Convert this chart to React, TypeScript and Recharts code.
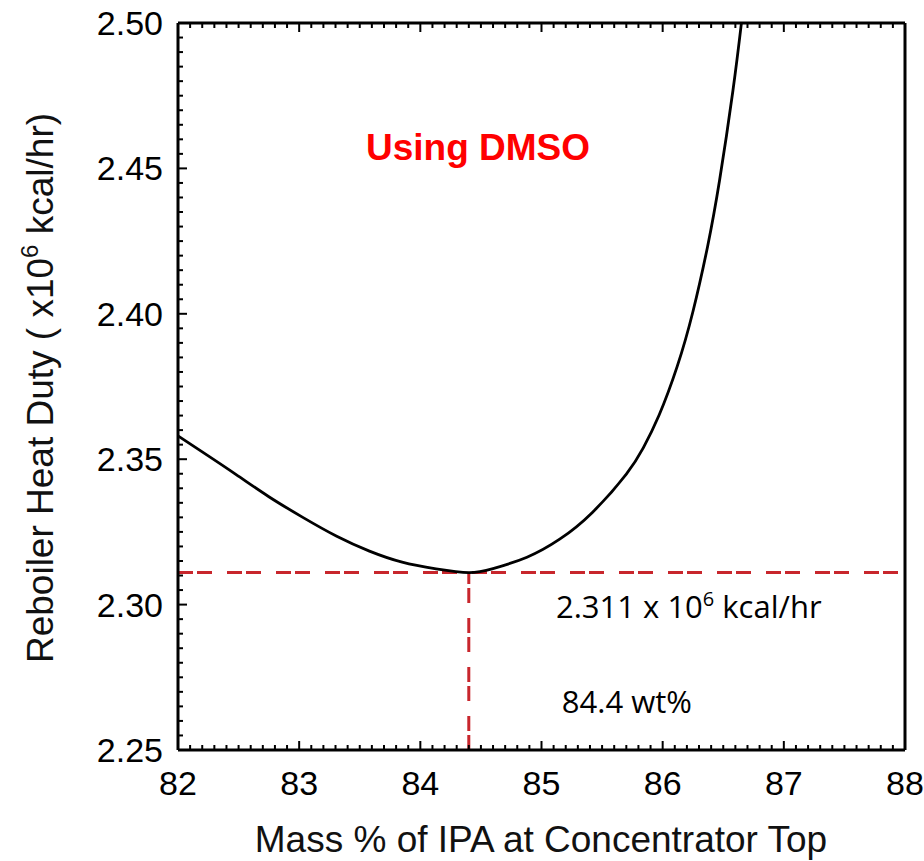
import { Line, LineChart, ReferenceLine, XAxis, YAxis } from "recharts";

// reboiler heat duty (x10^6 kcal/hr) vs IPA mass % at the concentrator top
const massPct = [
  82.0, 82.2, 82.48, 82.75, 83.03, 83.31, 83.58, 83.85, 84.13, 84.4, 84.6, 84.88,
  85.15, 85.42, 85.7, 85.84, 85.97, 86.12, 86.25, 86.37, 86.47, 86.58, 86.65,
];
const heatDuty = [
  2.358, 2.3525, 2.3447, 2.3371, 2.33, 2.3235, 2.3184, 2.3146, 2.3123, 2.311, 2.3124,
  2.3163, 2.3225, 2.3317, 2.3449, 2.3539, 2.3651, 2.3819, 2.4008, 2.423, 2.446, 2.4768, 2.5,
];

const xMajorTicks = [82, 83, 84, 85, 86, 87, 88];
const yMajorTicks = [2.25, 2.3, 2.35, 2.4, 2.45, 2.5];

// optimum marked on the chart
const optMass = 84.4;
const optDuty = 2.311;

const W = 924;
const H = 861;
const FONT = '"Liberation Sans", Arial, sans-serif';
const NOTE_FONT = '"Open Sans", sans-serif';
const RED = "#c8262c";

// minor ticks between each pair of majors
function withMinor(majors: number[], parts: number) {
  const out: number[] = [];
  for (let i = 0; i < majors.length - 1; i++) {
    const step = (majors[i + 1] - majors[i]) / parts;
    for (let j = 0; j < parts; j++) out.push(+(majors[i] + j * step).toFixed(4));
  }
  out.push(majors[majors.length - 1]);
  return out;
}

const xTicks = withMinor(xMajorTicks, 10);
const yTicks = withMinor(yMajorTicks, 10);
const isMajor = (v: number, majors: number[]) => majors.some((m) => Math.abs(m - v) < 1e-6);

const data = massPct.map((x, i) => ({ x, y: heatDuty[i] }));

// built-in tick lines point inward (negative size); majors get an extra stub
const MINOR = 5;
const EXTRA = 4;
const TICK_W = 2;

function BottomTick({ x, y, payload }: any) {
  const major = isMajor(payload.value, xMajorTicks);
  if (!major) return <g />;
  return (
    <g>
      <path d={`M${x},${y}V${y - EXTRA}`} stroke="#000" strokeWidth={TICK_W} />
      <text x={x} y={y + 50} textAnchor="middle" fontSize={34} fontFamily={FONT} fill="#000">
        {payload.value}
      </text>
    </g>
  );
}

function TopTick({ x, y, payload }: any) {
  const major = isMajor(payload.value, xMajorTicks);
  if (!major) return <g />;
  return <path d={`M${x},${y}V${y + EXTRA}`} stroke="#000" strokeWidth={TICK_W} />;
}

function LeftTick({ x, y, payload }: any) {
  const major = isMajor(payload.value, yMajorTicks);
  if (!major) return <g />;
  return (
    <g>
      <path d={`M${x},${y}H${x + EXTRA}`} stroke="#000" strokeWidth={TICK_W} />
      <text x={x - 20} y={y + 12} textAnchor="end" fontSize={34} fontFamily={FONT} fill="#000">
        {payload.value.toFixed(2)}
      </text>
    </g>
  );
}

function RightTick({ x, y, payload }: any) {
  const major = isMajor(payload.value, yMajorTicks);
  if (!major) return <g />;
  return <path d={`M${x},${y}H${x - EXTRA}`} stroke="#000" strokeWidth={TICK_W} />;
}

function DutyLabel({ viewBox }: any) {
  return (
    <text x={viewBox.x + 378} y={viewBox.y + 45} fontSize={31} fontFamily={NOTE_FONT} fill="#000">
      {optDuty} x 10
      <tspan dy={-12} fontSize={20}>6</tspan>
      <tspan dy={12}> kcal/hr</tspan>
    </text>
  );
}

function MassLabel({ viewBox }: any) {
  return (
    <text x={viewBox.x + 93} y={viewBox.y + 140} fontSize={31} fontFamily={NOTE_FONT} fill="#000">
      {optMass} wt%
    </text>
  );
}

const axisLine = { stroke: "#000", strokeWidth: 3 };
const tickLine = { stroke: "#000", strokeWidth: TICK_W };

export default function App() {
  return (
    <div style={{ position: "absolute", left: 0, top: 0, width: W, height: H, background: "#fff" }}>
      <LineChart width={W} height={H} data={data} margin={{ top: 22, right: 18, bottom: 0, left: 0 }}>
        <XAxis
          xAxisId="bottom"
          dataKey="x"
          type="number"
          domain={[82, 88]}
          ticks={xTicks}
          interval={0}
          height={111}
          tickSize={-MINOR}
          tickMargin={0}
          tickLine={tickLine}
          axisLine={axisLine}
          stroke="#000"
          tick={BottomTick}
        />
        <XAxis
          xAxisId="top"
          orientation="top"
          dataKey="x"
          type="number"
          domain={[82, 88]}
          ticks={xTicks}
          interval={0}
          height={1}
          tickSize={-MINOR}
          tickMargin={0}
          tickLine={tickLine}
          axisLine={axisLine}
          stroke="#000"
          tick={TopTick}
        />
        <YAxis
          yAxisId="left"
          type="number"
          domain={[2.25, 2.5]}
          ticks={yTicks}
          interval={0}
          width={178}
          tickSize={-MINOR}
          tickMargin={0}
          tickLine={tickLine}
          axisLine={axisLine}
          stroke="#000"
          tick={LeftTick}
        />
        <YAxis
          yAxisId="right"
          orientation="right"
          type="number"
          domain={[2.25, 2.5]}
          ticks={yTicks}
          interval={0}
          width={1}
          tickSize={-MINOR}
          tickMargin={0}
          tickLine={tickLine}
          axisLine={axisLine}
          stroke="#000"
          tick={RightTick}
        />
        <ReferenceLine
          xAxisId="bottom"
          yAxisId="left"
          y={optDuty}
          stroke={RED}
          strokeWidth={3}
          strokeDasharray="15 4 15 15"
          label={DutyLabel}
        />
        <ReferenceLine
          xAxisId="bottom"
          yAxisId="left"
          segment={[
            { x: optMass, y: 2.25 },
            { x: optMass, y: optDuty },
          ]}
          stroke={RED}
          strokeWidth={3}
          strokeDasharray="15 4 15 15"
          label={MassLabel}
        />
        <Line
          xAxisId="bottom"
          yAxisId="left"
          dataKey="y"
          type="natural"
          stroke="#000"
          strokeWidth={2.8}
          dot={false}
          isAnimationActive={false}
        />
        <text x={478} y={160} textAnchor="middle" fontSize={37} fontWeight="bold" fontFamily={FONT} fill="#ff0000">
          Using DMSO
        </text>
        <text x={541} y={852} textAnchor="middle" fontSize={37} fontFamily={FONT} fill="#111">
          Mass % of IPA at Concentrator Top
        </text>
        <text
          transform="translate(53, 388) rotate(-90)"
          textAnchor="middle"
          fontSize={37}
          fontFamily={FONT}
          fill="#111"
        >
          Reboiler Heat Duty ( x10
          <tspan dy={-15} fontSize={24}>6</tspan>
          <tspan dy={15}> kcal/hr)</tspan>
        </text>
      </LineChart>
    </div>
  );
}
